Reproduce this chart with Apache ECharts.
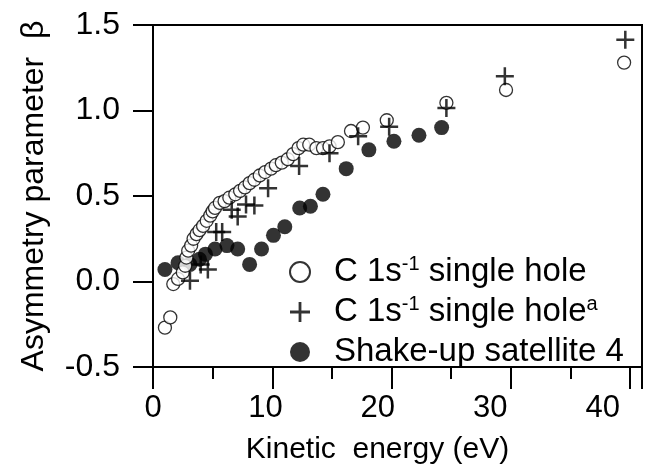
<!DOCTYPE html>
<html>
<head>
<meta charset="utf-8">
<script src="https://cdn.jsdelivr.net/npm/echarts@6/dist/echarts.min.js"></script>
<style>
  html, body { margin: 0; padding: 0; background: #fff; }
  #chart { width: 652px; height: 472px; }
</style>
</head>
<body>
<div id="chart"></div>
<script>
// C 1s-1 single hole (open circles)
const singleHole = [
    [1.0, -0.27], [1.45, -0.21], [1.7, -0.015], [2.1, 0.015], [2.5, 0.053], [2.7, 0.092],
    [2.8, 0.14], [2.95, 0.18], [3.2, 0.21], [3.4, 0.25], [3.65, 0.277], [3.9, 0.30],
    [4.2, 0.325], [4.5, 0.355], [4.8, 0.385], [5.0, 0.41], [5.2, 0.43], [5.6, 0.46],
    [6.0, 0.47], [6.4, 0.49], [6.9, 0.51], [7.3, 0.53], [7.7, 0.55], [8.1, 0.575],
    [8.5, 0.595], [8.95, 0.62], [9.4, 0.64], [9.9, 0.66], [10.3, 0.68], [10.8, 0.695],
    [11.3, 0.715], [11.75, 0.745], [12.2, 0.78], [12.6, 0.80], [13.1, 0.80], [13.7, 0.78],
    [14.25, 0.78], [14.8, 0.79], [15.5, 0.815], [16.6, 0.88], [17.6, 0.90], [19.6, 0.943],
    [24.6, 1.045], [29.6, 1.12], [39.5, 1.28]
]

// C 1s-1 single hole (ref. a, crosses)
const singleHoleRef = [
    [3.1, 0.005], [4.0, 0.10], [4.6, 0.07], [5.3, 0.29], [5.8, 0.29], [6.6, 0.42],
    [7.1, 0.38], [7.8, 0.45], [8.5, 0.445], [9.65, 0.545], [12.25, 0.675], [14.8, 0.75],
    [17.2, 0.85], [19.8, 0.905], [24.6, 1.015], [29.5, 1.20], [39.6, 1.414]
]

// Shake-up satellite 4 (filled dots)
const satellite4 = [
    [1.0, 0.07], [2.1, 0.11], [3.1, 0.10], [3.9, 0.13], [4.4, 0.16], [5.2, 0.19],
    [6.2, 0.21], [7.1, 0.19], [8.1, 0.10], [9.1, 0.19], [10.1, 0.27], [11.05, 0.32],
    [12.3, 0.43], [13.2, 0.44], [14.25, 0.51], [16.2, 0.66], [18.1, 0.77], [20.2, 0.82],
    [22.3, 0.855], [24.2, 0.90]
]

const seriesNames = ['C 1s-1 single hole', 'C 1s-1 single hole a', 'Shake-up satellite 4']
const legendLabels = {
    'C 1s-1 single hole': 'C 1s{sup|-1} single hole',
    'C 1s-1 single hole a': 'C 1s{sup|-1} single hole{sup|a}',
    'Shake-up satellite 4': 'Shake-up satellite 4'
}

const crossPath = 'path://M4.3,0 H5.7 V4.3 H10 V5.7 H5.7 V10 H4.3 V5.7 H0 V4.3 H4.3 Z'
const fontFamily = '"Liberation Sans", Arial, Helvetica, sans-serif'

function drawChart() {
    var dom = document.getElementById('chart');
    var myChart = echarts.init(dom, null, { renderer: 'canvas' });
    var option = {
        animation: false,
        backgroundColor: '#fff',
        grid: {
            left: 153, right: 10, top: 25, bottom: 105,
            show: true, borderColor: '#000', borderWidth: 2
        },
        legend: {
            orient: 'vertical',
            left: 284,
            top: 249,
            itemGap: 4,
            itemWidth: 58,
            itemHeight: 20,
            data: [
                { name: seriesNames[0], icon: 'circle' },
                { name: seriesNames[1], icon: crossPath },
                { name: seriesNames[2], icon: 'circle' }
            ],
            formatter: function (name) { return legendLabels[name]; },
            textStyle: {
                color: '#000',
                fontSize: 33,
                fontFamily: fontFamily,
                lineHeight: 36,
                rich: {
                    sup: { fontSize: 20, fontFamily: fontFamily, verticalAlign: 'top', lineHeight: 36 }
                }
            }
        },
        xAxis: [
            {
                // data axis: line and ticks
                type: 'value',
                min: 0, max: 41, interval: 10,
                name: 'Kinetic  energy (eV)',
                nameLocation: 'middle',
                nameGap: 68,
                nameTextStyle: { color: '#000', fontSize: 30, fontFamily: fontFamily, padding: [0, 40, 0, 0] },
                axisLine: { show: true, onZero: false, lineStyle: { color: '#000', width: 2 } },
                axisTick: { show: true, length: 22, lineStyle: { color: '#000', width: 2 } },
                minorTick: { show: true, splitNumber: 2, length: 12, lineStyle: { color: '#000', width: 2 } },
                axisLabel: { show: false },
                splitLine: { show: false }
            },
            {
                // tick label layer, printed a little narrower than the tick marks
                type: 'value',
                position: 'bottom',
                min: 0, max: 43.5, interval: 10,
                axisLine: { show: false },
                axisTick: { show: false },
                axisLabel: { color: '#000', fontSize: 31, fontFamily: fontFamily, margin: 26, showMaxLabel: false },
                splitLine: { show: false }
            }
        ],
        yAxis: {
            type: 'value',
            min: -0.5, max: 1.5, interval: 0.5,
            name: 'Asymmetry parameter  β',
            nameLocation: 'middle',
            nameGap: 103,
            nameTextStyle: { color: '#000', fontSize: 32, fontFamily: fontFamily },
            axisLine: { show: true, onZero: false, lineStyle: { color: '#000', width: 2 } },
            axisTick: { show: true, length: 20, lineStyle: { color: '#000', width: 2 } },
            axisLabel: {
                color: '#000', fontSize: 32, fontFamily: fontFamily, margin: 33,
                formatter: function (v) { return v.toFixed(1); }
            },
            splitLine: { show: false }
        },
        series: [
            {
                name: seriesNames[2],
                type: 'scatter',
                symbol: 'circle',
                symbolSize: 15,
                itemStyle: { color: '#000' },
                data: satellite4,
                z: 2
            },
            {
                name: seriesNames[0],
                type: 'scatter',
                symbol: 'circle',
                symbolSize: 13,
                itemStyle: { color: '#fff', borderColor: '#000', borderWidth: 1.3 },
                data: singleHole,
                z: 3
            },
            {
                name: seriesNames[1],
                type: 'scatter',
                symbol: crossPath,
                symbolSize: 18,
                itemStyle: { color: '#000' },
                data: singleHoleRef,
                z: 4
            }
        ]
    };
    myChart.setOption(option);
    window.addEventListener('resize', myChart.resize);
}

drawChart();
</script>
</body>
</html>
